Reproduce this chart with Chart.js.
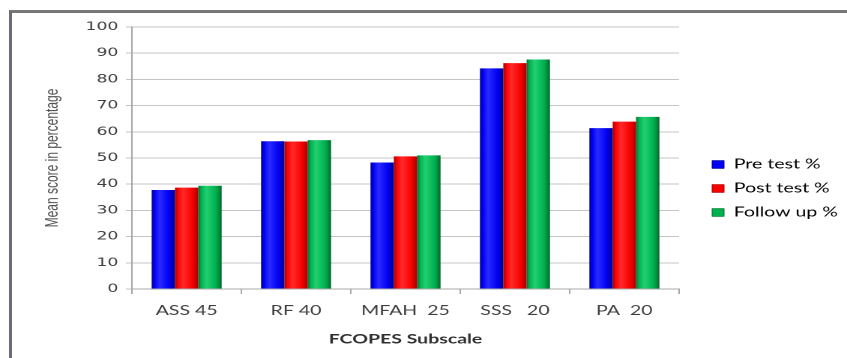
<!DOCTYPE html>
<html>
<head>
<meta charset="utf-8">
<script src="https://cdn.jsdelivr.net/npm/chart.js@4"></script>
<style>
  html, body { margin: 0; padding: 0; background: #ffffff; }
  body { width: 847px; height: 358px; position: relative; overflow: hidden; }
  #frame { position: absolute; left: 9px; top: 10px; right: -10px; bottom: -10px;
           border-top: 3px solid #777777; border-left: 3px solid #6a6a78; }
  #wrap { position: absolute; left: 0; top: 0; width: 565px; height: 358px;
          transform: scaleX(1.4991); transform-origin: 0 0; }
</style>
</head>
<body>
<div id="frame"></div>
<div id="wrap"><canvas id="c" width="565" height="358"></canvas></div>
<script>
const categories = ['ASS 45', 'RF 40', 'MFAH  25', 'SSS   20', 'PA  20'];
const seriesNames = ['Pre test %', 'Post test %', 'Follow up %'];
const preTest = [37.8, 56.4, 48.3, 84.2, 61.4];
const postTest = [38.7, 56.3, 50.6, 86.2, 63.9];
const followUp = [39.4, 56.8, 51.0, 87.6, 65.7];
const yTicks = [0, 10, 20, 30, 40, 50, 60, 70, 80, 90, 100];

const CAT_PCT = 0.64;
const colors = [
  { base: '#0000f4', dark: '#00008a', light: '#2a2aff' },
  { base: '#f80000', dark: '#a00000', light: '#ff2a2a' },
  { base: '#00b050', dark: '#006a2e', light: '#22d070' }
];

function barFill(ci) {
  return function (c) {
    const col = colors[ci];
    const chart = c.chart;
    const ca = chart.chartArea;
    if (!ca || c.dataIndex === undefined || !chart.scales.x) return col.base;
    const cx = chart.scales.x.getPixelForValue(c.dataIndex);
    const catW = (ca.right - ca.left) / categories.length;
    const groupW = catW * CAT_PCT;
    const slot = groupW / 3;
    const left = cx - groupW / 2 + slot * c.datasetIndex;
    const g = chart.ctx.createLinearGradient(left, 0, left + slot, 0);
    g.addColorStop(0, col.dark);
    g.addColorStop(0.12, col.base);
    g.addColorStop(0.35, col.light);
    g.addColorStop(0.75, col.base);
    g.addColorStop(1, col.dark);
    return g;
  };
}

const seriesData = [preTest, postTest, followUp];
const datasets = seriesData.map((d, i) => ({
  label: seriesNames[i],
  data: d,
  backgroundColor: barFill(i),
  borderWidth: 0,
  categoryPercentage: CAT_PCT,
  barPercentage: 1.0
}));

// keep the legend box at a fixed width so the plot ends where the reference's does
const legendWidthPlugin = {
  id: 'legendWidth',
  beforeLayout(chart) {
    const lg = chart.legend;
    if (lg && !lg._fixedFit) {
      const orig = lg.fit.bind(lg);
      lg.fit = function () { orig(); this.width = 101; };
      lg._fixedFit = true;
    }
  }
};

new Chart(document.getElementById('c'), {
  type: 'bar',
  data: { labels: categories, datasets: datasets },
  plugins: [legendWidthPlugin],
  options: {
    responsive: false,
    animation: false,
    devicePixelRatio: 2,
    layout: { padding: { left: 26, top: 27, right: 0, bottom: 8 } },
    plugins: {
      tooltip: { enabled: false },
      legend: {
        position: 'right',
        align: 'center',
        labels: {
          boxWidth: 8,
          boxHeight: 8,
          padding: 11,
          color: '#404040',
          font: { family: 'Lato', size: 13 },
          generateLabels: function (chart) {
            return chart.data.datasets.map((ds, i) => ({
              text: ds.label,
              fillStyle: colors[i].base,
              strokeStyle: colors[i].dark,
              lineWidth: 0.5,
              hidden: false,
              datasetIndex: i
            }));
          }
        }
      }
    },
    scales: {
      x: {
        grid: { display: true, drawOnChartArea: false, drawTicks: true, tickLength: 5, color: '#a8a8a8', offset: true },
        border: { color: '#a8a8a8' },
        ticks: { color: '#404040', padding: 9, font: { family: 'Lato', size: 13 } },
        title: { display: true, text: 'FCOPES Subscale', color: '#303030',
                 font: { family: 'Lato', size: 13, weight: 'bold' }, padding: { top: 10, bottom: 3 } },
        afterFit: s => { s.height = 61; }
      },
      y: {
        min: 0, max: 100,
        afterBuildTicks: s => { s.ticks = yTicks.map(v => ({ value: v })); },
        grid: { color: '#c4c4c4', tickLength: 4, drawTicks: true },
        border: { color: '#a8a8a8' },
        ticks: { color: '#404040', padding: 5, font: { family: 'DejaVu Sans', size: 11.5 } },
        title: { display: true, text: 'Mean score in percentage', color: '#505050',
                 font: { family: 'Liberation Sans', size: 12 }, padding: { top: 2, bottom: 2 } },
        afterFit: s => { s.width = 62; }
      },
      yR: {
        type: 'linear', position: 'right', display: true,
        grid: { display: false, drawTicks: false },
        border: { display: false },
        ticks: { display: false },
        afterFit: s => { s.width = 11; }
      }
    }
  }
});
</script>
</body>
</html>
